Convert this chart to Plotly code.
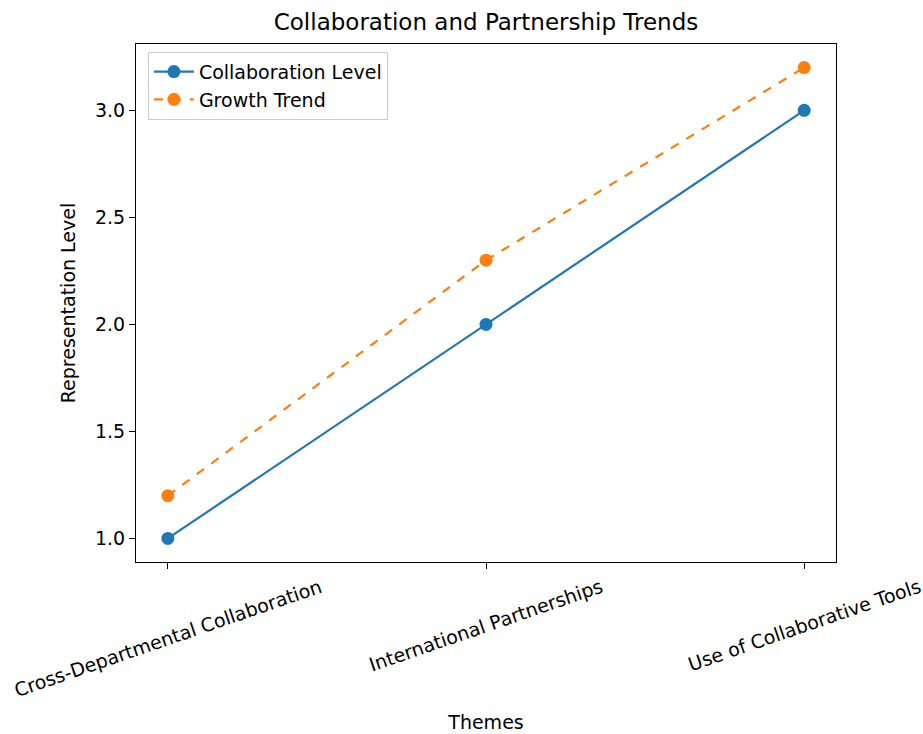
import plotly.graph_objects as go

themes = ["Cross-Departmental Collaboration", "International Partnerships", "Use of Collaborative Tools"]
collab_level = [1.0, 2.0, 3.0]
growth_trend = [1.2, 2.3, 3.2]
y_ticks = [1.0, 1.5, 2.0, 2.5, 3.0]
y_tick_labels = ["1.0", "1.5", "2.0", "2.5", "3.0"]

x_idx = list(range(len(themes)))
FONT = "DejaVu Sans"
FS = 19

fig = go.Figure()
fig.add_trace(go.Scatter(x=x_idx, y=collab_level, mode="lines+markers", name="Collaboration Level",
                         line=dict(color="#1f77b4", width=2.2), marker=dict(size=13, color="#1f77b4")))
fig.add_trace(go.Scatter(x=x_idx, y=growth_trend, mode="lines+markers", name="Growth Trend",
                         line=dict(color="#ff7f0e", width=2.2, dash="dash"), marker=dict(size=13, color="#ff7f0e")))

# Category labels centred under their ticks and rotated (as in the reference)
for xi, label in zip(x_idx, themes):
    fig.add_annotation(x=xi, y=0, xref="x", yref="paper", text=label, showarrow=False,
                       textangle=-19, xanchor="center", yanchor="top", yshift=-10,
                       font=dict(family=FONT, size=FS, color="black"))

fig.update_layout(
    width=923, height=734,
    paper_bgcolor="white", plot_bgcolor="white",
    margin=dict(l=136, r=87, t=44, b=172),
    font=dict(family=FONT, size=FS, color="black"),
    title=dict(text="Collaboration and Partnership Trends", x=0.5, xanchor="center", xref="paper",
               y=1 - 22 / 734, yanchor="middle", font=dict(size=23, family=FONT)),
    showlegend=True,
    legend=dict(x=0.017, y=0.985, xanchor="left", yanchor="top", bgcolor="white",
                bordercolor="#cccccc", borderwidth=1, font=dict(size=FS, family=FONT),
                itemwidth=40),
)
fig.update_xaxes(
    range=[-0.1, 2.1], tickmode="array", tickvals=x_idx, ticktext=themes, showticklabels=False,
    automargin=False,
    showline=True, linecolor="black", linewidth=1, mirror=True, showgrid=False, zeroline=False,
    ticks="outside", ticklen=6, tickcolor="black",
    title=dict(text="Themes", font=dict(size=FS), standoff=147),
)
fig.update_yaxes(
    range=[0.89, 3.31], tickmode="array", tickvals=y_ticks, ticktext=y_tick_labels,
    automargin=False,
    showline=True, linecolor="black", linewidth=1, mirror=True, showgrid=False, zeroline=False,
    ticks="outside", ticklen=6, tickcolor="black",
    title=dict(text="Representation Level", font=dict(size=FS), standoff=14),
)

fig.write_html("out.html", config={"displayModeBar": False},
               post_script="document.body.style.margin='0';document.body.style.overflow='hidden';")
